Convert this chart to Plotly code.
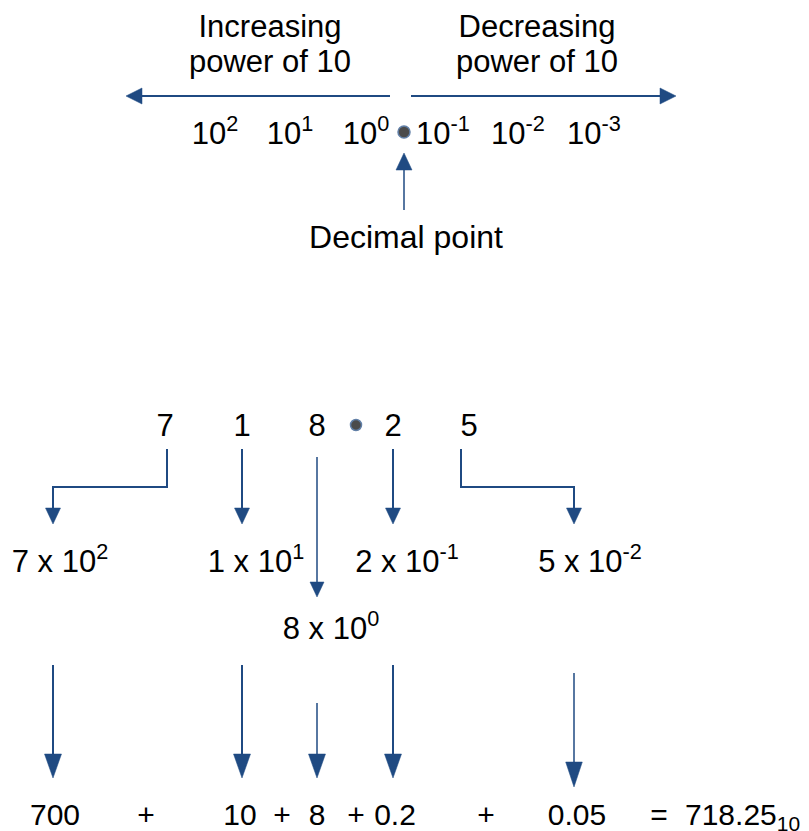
import plotly.graph_objects as go

# The page body has an 8px margin, so the figure is drawn 801x823 and its
# axes start at 8 so that data units equal window pixels.
WIN_W, WIN_H = 809, 831
PAD = 8
BLUE = "#1F4A82"
FONT = "Arial, 'Liberation Sans', sans-serif"
FS = 31
FS_SUM = 30

# ---------------- data ----------------
top_powers = [2, 1, 0, -1, -2, -3]
digits = ["7", "1", "8", "2", "5"]
exponents = [2, 1, 0, -1, -2]
terms = ["700", "10", "8", "0.2", "0.05"]
result = "718.25"
base = "10"
left_label = ["Increasing", "power of 10"]
right_label = ["Decreasing", "power of 10"]
point_label = "Decimal point"

# ---------------- layout (pixel positions) ----------------
top_label_x = [270, 537]
top_label_base = [37, 72]
top_power_x = [215, 290, 366, 443, 518, 594]
top_power_base = 144
top_dot = (404, 132)
point_label_xy = (406, 248)

digit_x = [165, 242, 317, 393, 469]
digit_base = 436
bottom_dot = (356, 425)
expanded_x = [60, 256, 331, 407, 590]
expanded_base = [572, 572, 639, 572, 572]
term_x = [55, 240, 317, 395, 577]
plus_x = [146, 282, 356, 486]
eq_x = 659
result_left = 685
eq_base = 825

fig = go.Figure()


def add_text(xs, bases, texts, size=FS, pos="middle center"):
    fig.add_trace(go.Scatter(
        x=xs, y=[b - 0.25 * size for b in bases], text=texts, mode="text",
        textposition=pos, textfont=dict(family=FONT, size=size, color="black"),
        hoverinfo="skip", showlegend=False, cliponaxis=False))


def add_arrow(pts, head_len, half_w, width=2.0):
    (x1, y1), (x2, y2) = pts[-2], pts[-1]
    dx, dy = x2 - x1, y2 - y1
    L = (dx * dx + dy * dy) ** 0.5
    ux, uy = dx / L, dy / L
    bx, by = x2 - ux * head_len, y2 - uy * head_len
    line_pts = pts[:-1] + [(bx, by)]
    fig.add_trace(go.Scatter(
        x=[p[0] for p in line_pts], y=[p[1] for p in line_pts], mode="lines",
        line=dict(color=BLUE, width=width), hoverinfo="skip", showlegend=False))
    px, py = -uy, ux
    path = (f"M {x2},{y2} L {bx + px * half_w},{by + py * half_w} "
            f"L {bx - px * half_w},{by - py * half_w} Z")
    fig.add_shape(type="path", path=path, xref="x", yref="y",
                  fillcolor=BLUE, line=dict(color=BLUE, width=0.5))


# ---------------- top section ----------------
for i, b in enumerate(top_label_base):
    add_text(top_label_x, [b, b], [left_label[i], right_label[i]])

add_arrow([(390, 96), (126, 96)], 16, 8, 2)
add_arrow([(411, 96), (676, 96)], 16, 8, 2)

add_text(top_power_x, [top_power_base] * len(top_powers),
         [f"10<sup>{p}</sup>" for p in top_powers])

add_arrow([(404, 210), (404, 153)], 17, 8, 1.5)
add_text([point_label_xy[0]], [point_label_xy[1]], [point_label], size=32)

# ---------------- digit row ----------------
add_text(digit_x, [digit_base] * len(digits), digits)

add_arrow([(167, 449), (167, 487), (53, 487), (53, 524)], 16, 7.5, 2)
add_arrow([(242, 449), (242, 524)], 16, 7.5, 2)
add_arrow([(317, 457), (317, 597)], 15, 7, 1.5)
add_arrow([(393, 449), (393, 524)], 16, 7.5, 2)
add_arrow([(461, 449), (461, 487), (574, 487), (574, 524)], 16, 7.5, 2)

add_text(expanded_x, expanded_base,
         [f"{d} x 10<sup>{e}</sup>" for d, e in zip(digits, exponents)])

# ---------------- sum row ----------------
add_arrow([(53, 665), (53, 778)], 24, 8.5, 2)
add_arrow([(242, 665), (242, 778)], 24, 8.5, 2)
add_arrow([(317, 703), (317, 778)], 24, 8.5, 1.5)
add_arrow([(393, 665), (393, 778)], 24, 8.5, 2)
add_arrow([(574, 673), (574, 787)], 25, 8.3, 1.5)

add_text(term_x, [eq_base] * len(terms), terms, size=FS_SUM)
add_text(plus_x, [eq_base] * len(plus_x), ["+"] * len(plus_x), size=FS_SUM)
add_text([eq_x], [eq_base], ["="], size=FS_SUM)
add_text([result_left], [eq_base], [f"{result}<sub>{base}</sub>"],
         size=FS_SUM, pos="middle right")

# ---------------- decimal point dots ----------------
fig.add_trace(go.Scatter(
    x=[top_dot[0], bottom_dot[0]], y=[top_dot[1], bottom_dot[1]], mode="markers",
    marker=dict(size=[12, 11], color="black", line=dict(color=BLUE, width=1.5)),
    hoverinfo="skip", showlegend=False))

fig.update_layout(
    width=WIN_W - PAD, height=WIN_H - PAD, autosize=False,
    margin=dict(l=0, r=0, t=0, b=0, pad=0),
    paper_bgcolor="white", plot_bgcolor="white",
    xaxis=dict(range=[PAD, WIN_W], visible=False, fixedrange=True),
    yaxis=dict(range=[WIN_H, PAD], visible=False, fixedrange=True),
)

fig.write_html("out.html")
